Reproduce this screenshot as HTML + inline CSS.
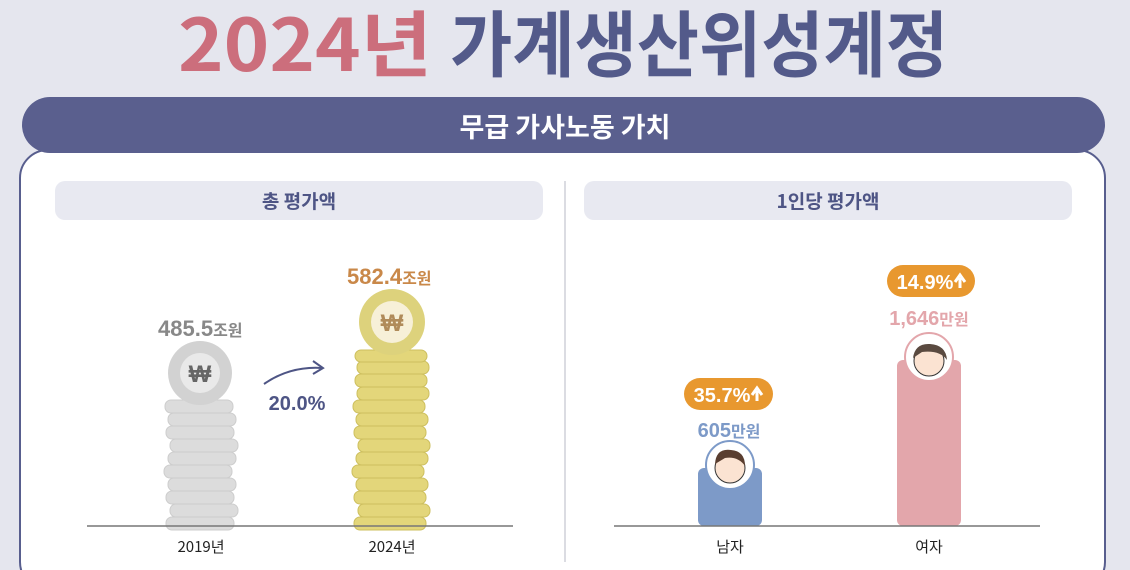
<!DOCTYPE html>
<html><head><meta charset="utf-8"><style>
html,body{margin:0;padding:0;background:#e5e6ee;}
svg{display:block;font-family:"Liberation Sans","Noto Sans CJK KR",sans-serif;}
</style></head><body>
<svg width="1130" height="570" viewBox="0 0 1130 570">
<rect width="1130" height="570" fill="#e5e6ee"/>
<text x="178" y="71" font-size="72" font-weight="bold" fill="#cc6e7c" textLength="254" lengthAdjust="spacingAndGlyphs" font-family="Noto Sans CJK KR,sans-serif">2024년</text>
<text x="450" y="71" font-size="72" font-weight="bold" fill="#535a8a" textLength="498" lengthAdjust="spacingAndGlyphs" font-family="Noto Sans CJK KR,sans-serif">가계생산위성계정</text>
<rect x="20" y="150" width="1085" height="440" rx="28" fill="#fff" stroke="#585e8e" stroke-width="2"/>
<rect x="22" y="97" width="1083" height="56" rx="28" fill="#5a5f8e"/>
<text x="565" y="137" font-size="27" font-weight="bold" fill="#fff" text-anchor="middle" font-family="Noto Sans CJK KR,sans-serif">무급 가사노동 가치</text>
<rect x="55" y="181" width="488" height="39" rx="10" fill="#e8e9f1"/>
<rect x="584" y="181" width="488" height="39" rx="10" fill="#e8e9f1"/>
<text x="299" y="208" font-size="19" font-weight="bold" fill="#4e5585" text-anchor="middle" font-family="Noto Sans CJK KR,sans-serif">총 평가액</text>
<text x="828" y="208" font-size="19" font-weight="bold" fill="#4e5585" text-anchor="middle" font-family="Noto Sans CJK KR,sans-serif">1인당 평가액</text>
<line x1="565" y1="181" x2="565" y2="562" stroke="#cfd0d8" stroke-width="1.5"/>
<!-- left stack -->
<g fill="#dcdcdc" stroke="#cdcdcd" stroke-width="1">
<rect x="166" y="517" width="68" height="13" rx="6"/>
<rect x="170" y="504" width="68" height="13" rx="6"/>
<rect x="166" y="491" width="68" height="13" rx="6"/>
<rect x="168" y="478" width="68" height="13" rx="6"/>
<rect x="164" y="465" width="68" height="13" rx="6"/>
<rect x="168" y="452" width="68" height="13" rx="6"/>
<rect x="170" y="439" width="68" height="13" rx="6"/>
<rect x="166" y="426" width="68" height="13" rx="6"/>
<rect x="168" y="413" width="68" height="13" rx="6"/>
<rect x="165" y="400" width="68" height="13" rx="6"/>
</g>
<circle cx="200" cy="373" r="32" fill="#d2d2d2"/>
<circle cx="200" cy="373" r="20" fill="#e9e9e9"/>
<text x="200" y="382" font-size="24" font-weight="bold" fill="#666" text-anchor="middle">₩</text>
<text x="158" y="336" font-size="22" font-weight="bold" fill="#888">485.5<tspan font-size="16" font-family="Noto Sans CJK KR,sans-serif">조원</tspan></text>
<!-- right stack -->
<g fill="#e3d67a" stroke="#cdbf5e" stroke-width="1">
<rect x="354" y="517" width="72" height="13" rx="6"/>
<rect x="358" y="504" width="72" height="13" rx="6"/>
<rect x="354" y="491" width="72" height="13" rx="6"/>
<rect x="356" y="478" width="72" height="13" rx="6"/>
<rect x="352" y="465" width="72" height="13" rx="6"/>
<rect x="356" y="452" width="72" height="13" rx="6"/>
<rect x="358" y="439" width="72" height="13" rx="6"/>
<rect x="354" y="426" width="72" height="13" rx="6"/>
<rect x="356" y="413" width="72" height="13" rx="6"/>
<rect x="353" y="400" width="72" height="13" rx="6"/>
<rect x="357" y="387" width="72" height="13" rx="6"/>
<rect x="355" y="374" width="72" height="13" rx="6"/>
<rect x="357" y="361" width="72" height="13" rx="6"/>
<rect x="355" y="350" width="72" height="12" rx="6"/>
</g>
<circle cx="392" cy="322" r="33" fill="#ddd27c"/>
<circle cx="392" cy="322" r="21" fill="#f7f0d8"/>
<text x="392" y="331" font-size="24" font-weight="bold" fill="#b08b5a" text-anchor="middle">₩</text>
<text x="347" y="284" font-size="22" font-weight="bold" fill="#c98849">582.4<tspan font-size="16" font-family="Noto Sans CJK KR,sans-serif">조원</tspan></text>
<path d="M264 384 Q290 366 322 368" fill="none" stroke="#4e5585" stroke-width="2"/>
<path d="M313 361 L323 368 L313 374" fill="none" stroke="#4e5585" stroke-width="2"/>
<text x="297" y="410" font-size="20" font-weight="bold" fill="#4e5585" text-anchor="middle">20.0%</text>
<line x1="87" y1="526" x2="513" y2="526" stroke="#777" stroke-width="1.5"/>
<text x="201" y="552" font-size="15" fill="#222" text-anchor="middle" font-family="Noto Sans CJK KR,sans-serif">2019년</text>
<text x="392" y="552" font-size="15" fill="#222" text-anchor="middle" font-family="Noto Sans CJK KR,sans-serif">2024년</text>
<!-- right bars -->
<rect x="698" y="468" width="64" height="58" rx="6" fill="#7d9ac8"/>
<rect x="897" y="360" width="64" height="166" rx="6" fill="#e3a6ab"/>
<circle cx="730" cy="465" r="24" fill="#fff" stroke="#7d9ac8" stroke-width="2"/>
<circle cx="730" cy="468" r="15" fill="#fbe3d2" stroke="#333" stroke-width="1"/>
<path d="M715 464 Q716 448 731 450 Q745 451 745 466 Q738 456 725 458 Z" fill="#5a3e30"/>
<circle cx="929" cy="357" r="24" fill="#fff" stroke="#e3a6ab" stroke-width="2"/>
<circle cx="929" cy="361" r="15" fill="#fbe3d2" stroke="#333" stroke-width="1"/>
<path d="M913 358 Q915 343 930 344 Q946 345 947 360 Q940 350 922 352 Z" fill="#5a4a40"/>
<rect x="684" y="378" width="89" height="32" rx="16" fill="#e8982f"/>
<text x="722" y="402" font-size="20" font-weight="bold" fill="#fff" text-anchor="middle">35.7%</text>
<path d="M757 401 L757 391 M752 395 L757 388 L762 395" stroke="#fff" stroke-width="3" fill="none"/>
<rect x="887" y="265" width="88" height="32" rx="16" fill="#e8982f"/>
<text x="925" y="289" font-size="20" font-weight="bold" fill="#fff" text-anchor="middle">14.9%</text>
<path d="M960 288 L960 278 M955 282 L960 275 L965 282" stroke="#fff" stroke-width="3" fill="none"/>
<text x="729" y="437" font-size="20" font-weight="bold" fill="#7d9ac8" text-anchor="middle">605<tspan font-size="16" font-family="Noto Sans CJK KR,sans-serif">만원</tspan></text>
<text x="929" y="325" font-size="20" font-weight="bold" fill="#e3a6ab" text-anchor="middle">1,646<tspan font-size="16" font-family="Noto Sans CJK KR,sans-serif">만원</tspan></text>
<line x1="614" y1="526" x2="1040" y2="526" stroke="#777" stroke-width="1.5"/>
<text x="730" y="552" font-size="15" fill="#222" text-anchor="middle" font-family="Noto Sans CJK KR,sans-serif">남자</text>
<text x="929" y="552" font-size="15" fill="#222" text-anchor="middle" font-family="Noto Sans CJK KR,sans-serif">여자</text>
</svg>
</body></html>
